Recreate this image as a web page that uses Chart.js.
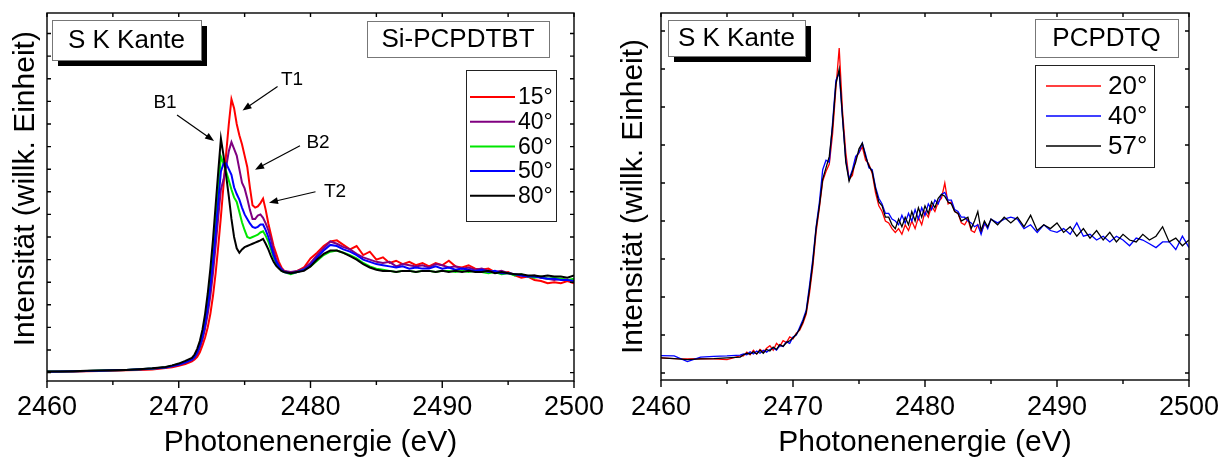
<!DOCTYPE html>
<html lang="de">
<head>
<meta charset="UTF-8">
<title>S K Kante – Si-PCPDTBT / PCPDTQ</title>
<script src="https://cdn.jsdelivr.net/npm/chart.js"></script>
<style>
  body { margin: 0; background: #fff; }
  #wrap { position: relative; width: 1223px; height: 457px; }
  canvas { position: absolute; top: 0; }
</style>
</head>
<body>
<div id="wrap">
  <canvas id="left" width="611" height="457" style="left:0"></canvas>
  <canvas id="right" width="612" height="457" style="left:611px"></canvas>
</div>
<script>
const FONT = "'Liberation Sans', Arial, sans-serif";
const xTicks = [2460, 2470, 2480, 2490, 2500];

// ---- linkes Panel: Si-PCPDTBT (Intensität, willk. Einheit) ----
const siEnergy = [
  2460, 2461, 2462, 2463, 2464, 2465, 2466, 2467, 2468, 2469, 2469.5, 2470, 2470.5,
  2471, 2471.2, 2471.4, 2471.6, 2471.8, 2472, 2472.2, 2472.4, 2472.6, 2472.8, 2473, 2473.2, 2473.4, 2473.6, 2473.8,
  2474, 2474.2, 2474.4, 2474.6, 2474.8, 2475, 2475.2, 2475.4, 2475.6, 2475.8, 2476, 2476.2, 2476.4, 2476.6, 2476.8,
  2477, 2477.2, 2477.4, 2477.6, 2477.8, 2478,
  2478.5, 2479, 2479.5, 2480, 2480.5, 2481, 2481.5, 2482, 2482.5, 2483, 2483.5, 2484, 2484.5, 2485, 2485.5,
  2486, 2486.5, 2487, 2487.5, 2488, 2488.5, 2489, 2489.5, 2490, 2490.5, 2491, 2491.5, 2492, 2492.5, 2493,
  2493.5, 2494, 2494.5, 2495, 2495.5, 2496, 2496.5, 2497, 2497.5, 2498, 2498.5, 2499, 2499.5, 2500
];
const siLabels = ['15°', '40°', '60°', '50°', '80°'];
const si15 = [
  -0.97, -0.96, -0.95, -0.94, -0.93, -0.92, -0.9, -0.88, -0.86, -0.8, -0.76, -0.7, -0.62,
  -0.5, -0.42, -0.3, -0.1, 0.2, 0.55, 1.0, 1.6, 2.4, 3.4, 4.6, 5.9, 7.3, 8.7, 10.0, 11.1, 10.7, 10.0, 9.5, 9.1,
  8.6, 8.1, 7.2, 6.4, 6.3, 6.35, 6.5, 6.7, 6.2, 5.6, 5.1, 4.6, 4.25, 3.9, 3.65, 3.5,
  3.4, 3.5, 3.65, 4.05, 4.3, 4.6, 4.8, 4.85, 4.65, 4.45, 4.6, 4.2, 4.35, 4.0, 4.1, 3.85, 3.95, 3.8, 3.9, 3.75,
  3.85, 3.7, 3.85, 3.75, 3.95, 3.7, 3.65, 3.75, 3.6, 3.55, 3.6, 3.45, 3.4, 3.45, 3.3, 3.2, 3.25, 3.1, 3.05, 2.95,
  3.0, 2.95, 3.05, 2.95
];
const si40 = [
  -0.96, -0.95, -0.95, -0.93, -0.92, -0.9, -0.89, -0.86, -0.83, -0.78, -0.72, -0.66, -0.57,
  -0.45, -0.35, -0.18, 0.1, 0.45, 0.95, 1.6, 2.4, 3.4, 4.6, 5.9, 7.1, 7.55, 8.1, 8.8, 9.2, 8.9, 8.6, 8.0, 7.4,
  7.15, 6.7, 6.2, 5.8, 5.8, 5.95, 6.0, 5.85, 5.6, 5.3, 4.9, 4.4, 4.0, 3.75, 3.6, 3.5,
  3.45, 3.5, 3.6, 3.85, 4.2, 4.5, 4.8, 4.7, 4.55, 4.45, 4.25, 4.1, 4.0, 3.9, 3.85, 3.9, 3.7, 3.8, 3.75, 3.7,
  3.75, 3.65, 3.8, 3.75, 3.65, 3.7, 3.6, 3.65, 3.55, 3.6, 3.5, 3.45, 3.5, 3.4, 3.35, 3.3, 3.25, 3.3, 3.2, 3.15,
  3.1, 3.15, 3.1, 3.1
];
const si60 = [
  -0.95, -0.95, -0.94, -0.93, -0.91, -0.9, -0.88, -0.85, -0.82, -0.76, -0.7, -0.62, -0.52,
  -0.4, -0.28, -0.05, 0.25, 0.7, 1.3, 2.1, 3.1, 4.3, 5.7, 7.1, 8.55, 8.25, 7.9, 7.5, 7.1, 6.75, 6.55, 6.1, 5.65,
  5.3, 5.0, 4.95, 5.0, 5.05, 5.1, 5.2, 5.25, 5.05, 4.8, 4.45, 4.1, 3.85, 3.65, 3.5, 3.45,
  3.35, 3.45, 3.55, 3.7, 3.95, 4.2, 4.35, 4.4, 4.3, 4.2, 4.05, 3.85, 3.7, 3.6, 3.55, 3.5, 3.45, 3.5, 3.5, 3.45,
  3.5, 3.5, 3.45, 3.5, 3.5, 3.45, 3.5, 3.45, 3.5, 3.45, 3.4, 3.45, 3.35, 3.4, 3.3, 3.35, 3.25, 3.2, 3.25, 3.15,
  3.2, 3.15, 3.1, 3.15
];
const si50 = [
  -0.96, -0.95, -0.94, -0.93, -0.92, -0.9, -0.88, -0.85, -0.82, -0.77, -0.71, -0.64, -0.54,
  -0.42, -0.3, -0.1, 0.2, 0.6, 1.15, 1.9, 2.8, 3.9, 5.2, 6.6, 7.9, 8.25, 8.25, 8.0, 7.75, 7.2, 6.9, 6.65, 6.3,
  6.0, 5.8, 5.6, 5.45, 5.4, 5.45, 5.55, 5.55, 5.3, 5.0, 4.6, 4.2, 3.9, 3.7, 3.55, 3.45,
  3.4, 3.45, 3.55, 3.75, 4.1, 4.4, 4.65, 4.6, 4.45, 4.35, 4.2, 4.0, 3.9, 3.8, 3.75, 3.7, 3.65, 3.7, 3.6, 3.65,
  3.6, 3.6, 3.7, 3.6, 3.65, 3.55, 3.6, 3.55, 3.5, 3.55, 3.45, 3.5, 3.4, 3.4, 3.35, 3.3, 3.25, 3.25, 3.2, 3.15,
  3.15, 3.1, 3.1, 3.05
];
const si80 = [
  -0.95, -0.95, -0.94, -0.92, -0.91, -0.9, -0.88, -0.85, -0.81, -0.75, -0.68, -0.6, -0.48,
  -0.35, -0.2, 0.05, 0.4, 0.9, 1.6, 2.5, 3.6, 4.9, 6.4, 7.9, 9.35, 8.6, 7.7, 6.8, 5.8, 5.0, 4.5, 4.3, 4.45,
  4.55, 4.6, 4.65, 4.7, 4.75, 4.8, 4.85, 4.92, 4.7, 4.45, 4.15, 3.9, 3.72, 3.6, 3.5, 3.45,
  3.4, 3.45, 3.5, 3.7, 4.0, 4.25, 4.4, 4.4, 4.3, 4.15, 4.0, 3.8, 3.65, 3.55, 3.5, 3.5, 3.45, 3.5, 3.5, 3.45,
  3.5, 3.5, 3.45, 3.5, 3.45, 3.5, 3.45, 3.5, 3.45, 3.45, 3.5, 3.4, 3.45, 3.4, 3.35, 3.35, 3.3, 3.3, 3.25, 3.3,
  3.25, 3.25, 3.2, 3.3
];

// ---- rechtes Panel: PCPDTQ ----
const pcEnergy = [
  2460, 2461, 2462, 2463, 2464, 2465, 2466,
  2466.25, 2466.5, 2466.75, 2467, 2467.25, 2467.5, 2467.75, 2468, 2468.25, 2468.5, 2468.75, 2469, 2469.25,
  2469.5, 2469.75, 2470, 2470.25, 2470.5, 2470.75, 2471, 2471.25, 2471.5, 2471.75, 2472, 2472.25, 2472.5,
  2472.75, 2473, 2473.25, 2473.5, 2473.75, 2474, 2474.25, 2474.5, 2474.75, 2475, 2475.25, 2475.5, 2475.75,
  2476, 2476.25, 2476.5, 2476.75, 2477, 2477.25, 2477.5, 2477.75, 2478, 2478.25, 2478.5, 2478.75, 2479,
  2479.25, 2479.5, 2479.75, 2480, 2480.25, 2480.5, 2480.75, 2481, 2481.25, 2481.5, 2481.75, 2482, 2482.25,
  2482.5, 2482.75, 2483, 2483.25, 2483.5, 2483.75, 2484, 2484.25, 2484.5, 2484.75, 2485,
  2485.5, 2486, 2486.5, 2487, 2487.5, 2488, 2488.5, 2489, 2489.5, 2490, 2490.5, 2491, 2491.5, 2492, 2492.5,
  2493, 2493.5, 2494, 2494.5, 2495, 2495.5, 2496, 2496.5, 2497, 2497.5, 2498, 2498.5, 2499, 2499.5, 2500
];
const pcLabels = ['20°', '40°', '57°'];
const pc20 = [
  0.4, 0.38, 0.37, 0.38, 0.37, 0.35, 0.45,
  0.45, 0.55, 0.48, 0.6, 0.5, 0.62, 0.55, 0.65, 0.72, 0.6, 0.78, 0.7, 0.85, 0.8, 0.95, 0.9, 1.05, 1.12, 1.3,
  1.55, 2.1, 2.8, 3.7, 4.35, 5.05, 5.3, 5.5, 6.3, 7.5, 8.55, 6.9, 5.8, 5.1, 5.2, 5.65, 5.8, 5.95, 5.6, 5.5,
  5.25, 4.75, 4.4, 4.25, 4.0, 3.95, 3.8, 3.7, 3.8, 3.65, 3.9, 3.75, 4.0, 3.8, 4.1, 3.9, 4.25, 4.1, 4.4,
  4.25, 4.5, 4.6, 5.0, 4.45, 4.5, 4.25, 4.2, 3.95, 3.9, 4.05, 3.75, 3.7, 3.9, 3.7, 3.9
];
const pc40 = [
  0.46, 0.45, 0.3, 0.42, 0.44, 0.45, 0.47,
  0.5, 0.48, 0.56, 0.5, 0.58, 0.52, 0.6, 0.55, 0.62, 0.66, 0.6, 0.72, 0.7, 0.82, 0.78, 0.95, 1.0, 1.2, 1.4,
  1.65, 2.3, 3.0, 3.85, 4.5, 5.35, 5.6, 5.55, 6.6, 7.7, 7.9, 6.7, 5.6, 5.1, 5.35, 5.7, 5.8, 6.05, 5.75, 5.4,
  5.35, 4.9, 4.6, 4.45, 4.2, 4.2, 4.05, 4.0, 3.9, 4.15, 3.95, 4.2, 4.0, 4.3, 4.05, 4.35, 4.15, 4.45, 4.3,
  4.55, 4.45, 4.7, 4.75, 4.55, 4.55, 4.3, 4.25, 4.1, 4.1, 4.0, 3.95, 3.85, 3.9, 3.65, 3.95, 3.8, 4.05,
  3.95, 4.05, 4.1, 4.05, 3.8, 3.9, 3.7, 3.9, 3.75, 3.7, 3.8, 3.65, 3.95, 3.6, 3.65, 3.5, 3.6, 3.45, 3.6, 3.5,
  3.35, 3.55, 3.5, 3.4, 3.3, 3.45, 3.45, 3.25, 3.6, 3.3
];
const pc57 = [
  0.4, 0.38, 0.35, 0.37, 0.38, 0.4, 0.42,
  0.48, 0.52, 0.5, 0.56, 0.5, 0.6, 0.52, 0.62, 0.58, 0.68, 0.62, 0.75, 0.7, 0.8, 0.85, 0.92, 1.02, 1.15, 1.35,
  1.6, 2.2, 2.9, 3.8, 4.4, 5.1, 5.4, 5.7, 6.5, 7.6, 8.0, 6.75, 5.55, 5.05, 5.3, 5.55, 5.9, 6.05, 5.7, 5.45,
  5.3, 4.85, 4.5, 4.4, 4.1, 4.1, 3.9, 3.8, 4.05, 3.85, 4.1, 3.9, 4.25, 4.0, 4.35, 4.1, 4.4, 4.2, 4.5,
  4.35, 4.6, 4.7, 4.65, 4.5, 4.45, 4.25, 4.2, 4.0, 4.05, 4.1, 3.8, 4.0, 4.25, 3.75, 4.0, 3.85, 4.05,
  3.9, 4.1, 3.95, 4.1, 3.85, 4.15, 3.75, 3.9, 3.8, 3.95, 3.7, 3.85, 3.6, 3.8, 3.55, 3.75, 3.5, 3.7, 3.45, 3.65,
  3.5, 3.45, 3.65, 3.5, 3.6, 3.85, 3.45, 3.55, 3.35, 3.5
];

function series(energy, values) {
  return values.map((v, i) => ({ x: energy[i], y: v }));
}

// Rahmen, Ticks, Textkästen, Legende und Beschriftungen
function makeDecor(cfg) {
  return {
    id: 'decor',
    afterDraw(chart) {
      const { ctx, chartArea: a, scales: { x, y } } = chart;
      ctx.save();
      ctx.strokeStyle = '#000';
      ctx.lineWidth = 1.4;
      ctx.strokeRect(a.left, a.top, a.right - a.left, a.bottom - a.top);
      ctx.beginPath();
      for (let e = 2460; e <= 2500; e += 5) {
        const px = x.getPixelForValue(e);
        ctx.moveTo(px, a.bottom);
        ctx.lineTo(px, a.bottom + (e % 10 === 0 ? 7 : 4));
        ctx.moveTo(px, a.top);
        ctx.lineTo(px, a.top + 4);
      }
      for (let v = Math.ceil(y.min); v <= y.max; v++) {
        const py = y.getPixelForValue(v);
        ctx.moveTo(a.left, py); ctx.lineTo(a.left + 4, py);
        ctx.moveTo(a.right, py); ctx.lineTo(a.right - 4, py);
      }
      ctx.stroke();

      // Textkästen
      for (const b of cfg.boxes) {
        if (b.shadow) {
          ctx.fillStyle = '#000';
          ctx.fillRect(b.x + b.shadow, b.y + b.shadow, b.w, b.h);
        }
        ctx.fillStyle = '#fff';
        ctx.fillRect(b.x, b.y, b.w, b.h);
        ctx.strokeStyle = '#777';
        ctx.lineWidth = 1;
        ctx.strokeRect(b.x + 0.5, b.y + 0.5, b.w, b.h);
        ctx.fillStyle = '#000';
        ctx.font = `${b.size}px ${FONT}`;
        ctx.textAlign = 'center';
        ctx.textBaseline = 'middle';
        ctx.fillText(b.text, b.x + b.w / 2, b.y + b.h / 2 + 1);
      }

      // Legende
      const L = cfg.legend;
      ctx.fillStyle = '#fff';
      ctx.fillRect(L.x, L.y, L.w, L.h);
      ctx.strokeStyle = '#222';
      ctx.lineWidth = 1;
      ctx.strokeRect(L.x + 0.5, L.y + 0.5, L.w, L.h);
      ctx.font = `${L.size}px ${FONT}`;
      ctx.textAlign = 'left';
      ctx.textBaseline = 'middle';
      chart.data.datasets.forEach((ds, i) => {
        const ly = L.first + i * L.step;
        ctx.strokeStyle = ds.borderColor;
        ctx.lineWidth = ds.borderWidth;
        ctx.beginPath();
        ctx.moveTo(L.x1, ly);
        ctx.lineTo(L.x2, ly);
        ctx.stroke();
        ctx.fillStyle = '#000';
        ctx.fillText(ds.label, L.tx, ly + 1);
      });

      // Peak-Beschriftungen mit Pfeilen
      ctx.font = `19px ${FONT}`;
      ctx.textAlign = 'center';
      for (const n of cfg.notes) {
        ctx.fillStyle = '#000';
        ctx.fillText(n.text, x.getPixelForValue(n.at[0]), y.getPixelForValue(n.at[1]));
        const x0 = x.getPixelForValue(n.from[0]), y0 = y.getPixelForValue(n.from[1]);
        const x1 = x.getPixelForValue(n.to[0]), y1 = y.getPixelForValue(n.to[1]);
        const ang = Math.atan2(y1 - y0, x1 - x0);
        ctx.strokeStyle = '#000';
        ctx.lineWidth = 1.2;
        ctx.beginPath();
        ctx.moveTo(x0, y0);
        ctx.lineTo(x1 - 7 * Math.cos(ang), y1 - 7 * Math.sin(ang));
        ctx.stroke();
        ctx.beginPath();
        ctx.moveTo(x1, y1);
        ctx.lineTo(x1 - 9 * Math.cos(ang) + 3.5 * Math.sin(ang), y1 - 9 * Math.sin(ang) - 3.5 * Math.cos(ang));
        ctx.lineTo(x1 - 9 * Math.cos(ang) - 3.5 * Math.sin(ang), y1 - 9 * Math.sin(ang) + 3.5 * Math.cos(ang));
        ctx.closePath();
        ctx.fill();
      }
      ctx.restore();
    }
  };
}

function panelOptions(cfg) {
  return {
    responsive: false,
    animation: false,
    devicePixelRatio: 1,
    layout: { padding: { left: 0, top: 13, right: cfg.padRight, bottom: 0 } },
    plugins: { legend: { display: false }, tooltip: { enabled: false } },
    elements: { point: { radius: 0 }, line: { tension: 0 } },
    scales: {
      x: {
        type: 'linear', min: 2460, max: 2500,
        afterFit: s => { s.height = cfg.xHeight; },
        afterBuildTicks: s => { s.ticks = xTicks.map(v => ({ value: v })); },
        // Tick-Striche zeichnet das Plugin; tickLength bestimmt nur den Abstand der Zahlen
        grid: { display: false, drawTicks: true, tickLength: cfg.tickPad },
        border: { display: false },
        ticks: {
          padding: 0, color: '#000', autoSkip: false, maxRotation: 0,
          font: { family: FONT, size: 27 }, callback: v => String(v)
        },
        title: {
          display: true, text: 'Photonenenergie (eV)', color: '#000',
          font: { family: FONT, size: 30 }, padding: { top: 0, bottom: -4 }
        }
      },
      y: {
        type: 'linear', min: cfg.yMin, max: cfg.yMax,
        afterFit: s => { s.width = cfg.yWidth; },
        grid: { display: false, drawTicks: false },
        border: { display: false },
        ticks: { display: false },
        title: {
          display: true, text: cfg.yTitle, color: '#000',
          font: { family: FONT, size: 30 }, padding: { top: cfg.yTitlePad, bottom: 0 }
        }
      }
    }
  };
}

const siColors = ['#ff0000', '#800080', '#00e600', '#0000ff', '#000000'];
const siValues = [si15, si40, si60, si50, si80];
new Chart(document.getElementById('left'), {
  type: 'line',
  data: {
    datasets: siValues.map((vals, i) => ({
      label: siLabels[i],
      data: series(siEnergy, vals),
      borderColor: siColors[i],
      borderWidth: 2,
      order: siValues.length - i
    }))
  },
  options: panelOptions({
    padRight: 37, xHeight: 76, yWidth: 47, tickPad: 10,
    yMin: -1.372, yMax: 14.91,
    yTitle: '  Intensität (willk. Einheit)', yTitlePad: 7.5
  }),
  plugins: [makeDecor({
    boxes: [
      { text: 'S K Kante', x: 52, y: 20, w: 149, h: 40, shadow: 6, size: 26 },
      { text: 'Si-PCPDTBT', x: 367, y: 21, w: 182, h: 36, shadow: 0, size: 26 }
    ],
    legend: { x: 466, y: 70, w: 90, h: 151, x1: 470, x2: 515, tx: 518, first: 97, step: 24.7, size: 23 },
    notes: [
      { text: 'B1', at: [2468.96, 10.93], from: [2469.87, 10.4], to: [2472.68, 9.25] },
      { text: 'T1', at: [2478.6, 11.95], from: [2477.5, 11.66], to: [2474.84, 10.6] },
      { text: 'B2', at: [2480.57, 9.16], from: [2479.2, 9.04], to: [2475.79, 7.98] },
      { text: 'T2', at: [2481.86, 6.99], from: [2480.38, 7.0], to: [2476.85, 6.52] }
    ]
  })]
});

const pcColors = ['#ff0000', '#0000ff', '#000000'];
const pcValues = [pc20, pc40, pc57];
new Chart(document.getElementById('right'), {
  type: 'line',
  data: {
    datasets: pcValues.map((vals, i) => ({
      label: pcLabels[i],
      data: series(pcEnergy, vals),
      borderColor: pcColors[i],
      borderWidth: 1.3,
      order: pcValues.length - i
    }))
  },
  options: panelOptions({
    padRight: 34, xHeight: 77, yWidth: 50, tickPad: 11,
    yMin: -0.184, yMax: 9.474,
    yTitle: 'Intensität (willk. Einheit)', yTitlePad: 4.5
  }),
  plugins: [makeDecor({
    boxes: [
      { text: 'S K Kante', x: 57, y: 20, w: 137, h: 36, shadow: 6, size: 26 },
      { text: 'PCPDTQ', x: 424, y: 19, w: 143, h: 38, shadow: 0, size: 26 }
    ],
    legend: { x: 424, y: 65, w: 119, h: 102, x1: 435, x2: 490, tx: 497, first: 86, step: 30, size: 26 },
    notes: []
  })]
});
</script>
</body>
</html>
